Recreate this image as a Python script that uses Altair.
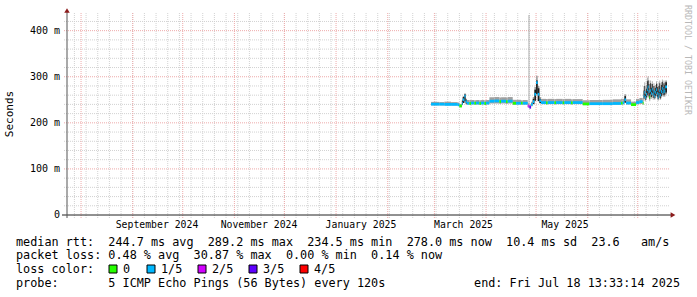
import altair as alt
import pandas as pd

# ---------------- data ----------------
seg_start = [
    "2025-02-27", "2025-03-04", "2025-03-07", "2025-03-11", "2025-03-15",
    "2025-03-16", "2025-03-17T12:00", "2025-03-18", "2025-03-19", "2025-03-19T18:00",
    "2025-03-20T12:00", "2025-03-22", "2025-03-23", "2025-03-25", "2025-03-26",
    "2025-03-28", "2025-03-29", "2025-03-31", "2025-04-01", "2025-04-03",
    "2025-04-06", "2025-04-09", "2025-04-10", "2025-04-13", "2025-04-14",
    "2025-04-17", "2025-04-19", "2025-04-22", "2025-04-23", "2025-04-26",
    "2025-04-26T12:00", "2025-04-27", "2025-04-28", "2025-04-29", "2025-04-30",
    "2025-05-01", "2025-05-02", "2025-05-03", "2025-05-04", "2025-05-07",
    "2025-05-08", "2025-05-12", "2025-05-13", "2025-05-17", "2025-05-18",
    "2025-05-22", "2025-05-23", "2025-05-29", "2025-06-02", "2025-06-10",
    "2025-06-16", "2025-06-21", "2025-06-22", "2025-06-23", "2025-06-24",
    "2025-06-27", "2025-06-30", "2025-07-02", "2025-07-04",
    "2025-07-04T12:00", "2025-07-05", "2025-07-05T12:00", "2025-07-06", "2025-07-06T12:00",
    "2025-07-07", "2025-07-07T12:00", "2025-07-08", "2025-07-08T12:00", "2025-07-09",
    "2025-07-09T12:00", "2025-07-10", "2025-07-10T12:00", "2025-07-11", "2025-07-11T12:00",
    "2025-07-12", "2025-07-12T12:00", "2025-07-13", "2025-07-13T12:00", "2025-07-14",
    "2025-07-14T12:00", "2025-07-15", "2025-07-15T12:00", "2025-07-16", "2025-07-16T12:00",
    "2025-07-17", "2025-07-17T12:00",
]
series_end = "2025-07-18T13:33"

seg_median = [
    240.5, 240.5, 240, 240, 239,
    236.5, 242, 250, 258, 246,
    242.5, 242, 243, 242.5, 243,
    242, 243, 242, 243, 247,
    247.5, 246, 247, 246, 247,
    242.5, 242.5, 243, 242.5, 237,
    236, 234, 240, 246, 262,
    287, 262, 248, 244, 243.5,
    244, 243.5, 244, 243.5, 244,
    243.5, 244, 241, 241.5, 241.5,
    242, 243, 243.5, 250, 243,
    239.5, 244, 246, 243,
    258, 266, 255, 262, 272,
    278, 268, 256, 270, 264,
    273, 262, 268, 258, 266,
    272, 264, 256, 262, 270,
    260, 268, 275, 266, 272,
    268, 278,
]
seg_low = [
    238, 238, 238, 238, 237,
    234, 238, 244, 248, 240,
    240, 239.5, 240, 240, 240,
    239.5, 240, 239.5, 240, 242,
    242, 241, 242, 241, 242,
    239.5, 240, 240, 240, 234,
    233, 231, 236, 240, 248,
    265, 248, 242, 240.5, 240,
    240.5, 240, 240.5, 240, 240.5,
    240, 240.5, 239, 239, 239,
    239.5, 240, 240, 243, 240,
    237, 240, 241, 239.5,
    248, 252, 247, 250, 255,
    260, 254, 247, 256, 252,
    258, 250, 255, 250, 254,
    258, 252, 248, 250, 256,
    250, 255, 260, 256, 258,
    256, 262,
]
seg_high = [
    245.5, 245, 246, 245, 244,
    241, 250, 258, 264, 252,
    249.5, 249.5, 249.5, 249, 249.5,
    249, 249.5, 249, 249.5, 255.5,
    256, 255, 255.5, 255, 256,
    250, 250, 249, 249.5, 243,
    440, 240, 246, 256, 278,
    302, 280, 256, 252, 251.5,
    252, 251.5, 252, 251.5, 252,
    251, 251.5, 249, 249.5, 250,
    251, 252, 252, 262, 251,
    246, 252, 254, 252,
    280, 288, 270, 282, 298,
    301, 292, 275, 292, 285,
    290, 280, 286, 276, 282,
    290, 284, 278, 288, 292,
    278, 288, 294, 285, 292,
    288, 292,
]
seg_dark_low = [
    None, None, None, None, None,
    None, 240, 243, 247, 242,
    None, None, None, None, None,
    None, None, None, None, None,
    None, None, None, None, None,
    None, None, None, None, None,
    None, None, None, 241, 248,
    262, 247, 243, None, None,
    None, None, None, None, None,
    None, None, None, None, None,
    None, None, None, 244, None,
    None, None, None, None,
    252, 256, 250, 255, 260,
    264, 257, 251, 262, 256,
    264, 254, 260, 253, 258,
    263, 256, 251, 254, 260,
    253, 258, 265, 260, 262,
    260, 266,
]
seg_dark_high = [
    None, None, None, None, None,
    None, 248, 256, 262, 250,
    None, None, None, None, None,
    None, None, None, None, None,
    None, None, None, None, None,
    None, None, None, None, None,
    None, None, None, 252, 272,
    292, 275, 252, None, None,
    None, None, None, None, None,
    None, None, None, None, None,
    None, None, None, 258, None,
    None, None, None, None,
    270, 280, 262, 274, 290,
    292, 284, 266, 286, 276,
    284, 272, 280, 268, 276,
    285, 278, 270, 280, 286,
    270, 282, 289, 278, 286,
    282, 288,
]
seg_loss = [
    1, 1, 1, 1, 1,
    0, 1, 1, 1, 1,
    1, 0, 1, 0, 1,
    0, 1, 0, 1, 1,
    1, 0, 1, 0, 1,
    0, 1, 0, 1, 2,
    2, 3, 1, 1, 1,
    1, 1, 1, 1, 0,
    1, 0, 1, 0, 1,
    0, 1, 0, 1, 1,
    1, 0, 1, 1, 1,
    0, 1, 1, 0,
    1, 1, 1, 1, 1,
    1, 1, 0, 1, 1,
    1, 1, 1, 1, 1,
    1, 1, 1, 1, 1,
    1, 1, 1, 1, 1,
    1, 1,
]

loss_labels = ["0", "1/5", "2/5", "3/5", "4/5"]
loss_colors = ["#26ff00", "#00b8ff", "#d200ff", "#5e00ff", "#ff0000"]

y_ticks = [0, 100, 200, 300, 400]
y_tick_text = ["0\u00a0\u00a0", "100 m", "200 m", "300 m", "400 m"]

month_label_dates = ["2024-09-15T13:30", "2024-11-15T18:20", "2025-01-15T23:10",
                     "2025-03-18T11:00", "2025-05-18T08:30"]
month_label_text = ["September 2024", "November 2024", "January 2025",
                    "March 2025", "May 2025"]

month_grid = ["2024-08-01", "2024-09-01", "2024-10-01", "2024-11-01", "2024-12-01",
              "2025-01-01", "2025-02-01", "2025-03-01", "2025-04-01", "2025-05-01",
              "2025-06-01", "2025-07-01"]

legend_lines = [
    "median rtt:  244.7 ms avg  289.2 ms max  234.5 ms min  278.0 ms now  10.4 ms sd  23.6   am/s",
    "packet loss: 0.48 % avg  30.87 % max  0.00 % min  0.14 % now",
    "loss color:",
    "probe:       5 ICMP Echo Pings (56 Bytes) every 120s",
]
end_text = "end: Fri Jul 18 13:33:14 2025"
watermark = "RRDTOOL / TOBI OETIKER"

# ---------------- tables ----------------
def iso(s):
    return pd.Timestamp(s).strftime("%Y-%m-%dT%H:%M:%SZ")

starts = [iso(s) for s in seg_start]
ends = starts[1:] + [iso(series_end)]
smoke = pd.DataFrame({
    "t": starts, "t2": ends, "med": seg_median, "lo": seg_low, "hi": seg_high,
    "dlo": seg_dark_low, "dhi": seg_dark_high, "loss": seg_loss,
})
dark = smoke.dropna(subset=["dlo"])

week_grid = [d.strftime("%Y-%m-%dT00:00:00Z")
             for d in pd.date_range("2024-07-28", "2025-07-13", freq="7D")]
months_df = pd.DataFrame({"t": [iso(m) for m in month_grid]})
weeks_df = pd.DataFrame({"t": week_grid})
minor_h = pd.DataFrame({"v": [v for v in range(20, 434, 20) if v % 100]})
major_h = pd.DataFrame({"v": [100, 200, 300, 400]})
ylab_df = pd.DataFrame({"v": y_ticks, "txt": y_tick_text})
mlab_df = pd.DataFrame({"t": [iso(d) for d in month_label_dates], "txt": month_label_text})
one = pd.DataFrame({"k": [0]})

xscale = alt.Scale(type="utc", domain=[
    alt.DateTime(year=2024, month=7, date=23, hours=13, minutes=33, utc=True),
    alt.DateTime(year=2025, month=7, date=18, hours=13, minutes=33, utc=True)])
yscale = alt.Scale(domain=[0, 434], nice=False, zero=False)

FONT = "DejaVu Sans Mono"
W, H = 600, 200
PL, PT = 67, 15
NB = "\u00a0"
LFS = 11.8

X = lambda f: alt.X(f, type="temporal", scale=xscale, axis=None)
Y = lambda f: alt.Y(f, type="quantitative", scale=yscale, axis=None)

MINOR = "#d2d2d2"
MAJOR = "#eeaaaa"

layers = []
# grid
layers.append(alt.Chart(weeks_df).mark_rule(color=MINOR, strokeDash=[1, 1], strokeWidth=1)
              .encode(x=X("t"), y=alt.value(-2), y2=alt.value(H + 3)))
layers.append(alt.Chart(minor_h).mark_rule(color=MINOR, strokeDash=[1, 1], strokeWidth=1)
              .encode(y=Y("v"), x=alt.value(-3), x2=alt.value(W + 3)))
layers.append(alt.Chart(months_df).mark_rule(color=MAJOR, strokeDash=[1, 1], strokeWidth=1)
              .encode(x=X("t"), y=alt.value(-2), y2=alt.value(H + 3)))
layers.append(alt.Chart(major_h).mark_rule(color=MAJOR, strokeDash=[1, 1], strokeWidth=1)
              .encode(y=Y("v"), x=alt.value(-3), x2=alt.value(W + 3)))
# smoke
layers.append(alt.Chart(smoke).mark_rect(color="#a0a0a0", clip=True)
              .encode(x=X("t"), x2="t2:T", y=Y("lo"), y2="hi:Q"))
layers.append(alt.Chart(dark).mark_rect(color="#1e1e1e", clip=True)
              .encode(x=X("t"), x2="t2:T", y=Y("dlo"), y2="dhi:Q"))
# median coloured by loss
layers.append(alt.Chart(smoke).transform_calculate(m1="datum.med - 3", m2="datum.med + 3")
              .mark_rect(clip=True)
              .encode(x=X("t"), x2="t2:T", y=Y("m1"), y2="m2:Q",
                      color=alt.Color("loss:O", scale=alt.Scale(domain=[0, 1, 2, 3, 4], range=loss_colors),
                                      legend=None)))
# axes
layers.append(alt.Chart(one).mark_rule(color="#222222", strokeWidth=1)
              .encode(x=alt.value(-5), x2=alt.value(W + 5), y=alt.value(H)))
layers.append(alt.Chart(one).mark_rule(color="#555555", strokeWidth=1)
              .encode(x=alt.value(0), y=alt.value(H + 3), y2=alt.value(-5)))
layers.append(alt.Chart(one).mark_point(shape="triangle-right", filled=True, size=30,
                                        color="#8c1c1c", opacity=1)
              .encode(x=alt.value(W + 6), y=alt.value(H)))
layers.append(alt.Chart(one).mark_point(shape="triangle-up", filled=True, size=30,
                                        color="#8c1c1c", opacity=1)
              .encode(x=alt.value(0), y=alt.value(-4.5)))
# axis labels
layers.append(alt.Chart(ylab_df).mark_text(font=FONT, fontSize=10, align="right", baseline="middle",
                                           color="#000000")
              .encode(y=Y("v"), x=alt.value(-7), text="txt:N"))
layers.append(alt.Chart(mlab_df).mark_text(font=FONT, fontSize=9.8, align="center", baseline="alphabetic",
                                           color="#000000")
              .encode(x=X("t"), y=alt.value(212.5), text="txt:N"))
layers.append(alt.Chart(one).mark_text(font=FONT, fontSize=11, angle=270, align="center",
                                       baseline="middle", text="Seconds", color="#000000")
              .encode(x=alt.value(10 - PL), y=alt.value(114 - PT)))
layers.append(alt.Chart(one).mark_text(font=FONT, fontSize=8.3, angle=90, align="center",
                                       baseline="middle", text=watermark, color="#b8b8b8")
              .encode(x=alt.value(687 - PL), y=alt.value(60 - PT)))
# legend text
baselines = [245.5, 259.3, 273.1, 286.9]
for line, b in zip(legend_lines, baselines):
    layers.append(alt.Chart(one).mark_text(font=FONT, fontSize=LFS, align="left",
                                           baseline="alphabetic", color="#000000",
                                           text=line.replace(" ", NB))
                  .encode(x=alt.value(16 - PL), y=alt.value(b - PT)))
layers.append(alt.Chart(one).mark_text(font=FONT, fontSize=LFS, align="right",
                                       baseline="alphabetic", color="#000000",
                                       text=end_text.replace(" ", NB))
              .encode(x=alt.value(680 - PL), y=alt.value(baselines[3] - PT)))
box_x = [109, 147, 198, 249, 300]
for bx, lab, col in zip(box_x, loss_labels, loss_colors):
    layers.append(alt.Chart(one).mark_rect(color=col, stroke="#000000", strokeWidth=1)
                  .encode(x=alt.value(bx - PL), x2=alt.value(bx - PL + 8),
                          y=alt.value(265 - PT), y2=alt.value(273 - PT)))
    layers.append(alt.Chart(one).mark_text(font=FONT, fontSize=LFS, align="left",
                                           baseline="alphabetic", color="#000000", text=lab)
                  .encode(x=alt.value(bx - PL + 14), y=alt.value(baselines[2] - PT)))

chart = alt.layer(*layers).properties(
    width=W, height=H,
    padding={"left": PL, "top": PT, "right": 697 - PL - W, "bottom": 297 - PT - H},
    autosize=alt.AutoSizeParams(type="none"),
    background="white",
).configure_view(stroke=None)

chart.save("out.html", embed_options={"renderer": "svg", "actions": False})
